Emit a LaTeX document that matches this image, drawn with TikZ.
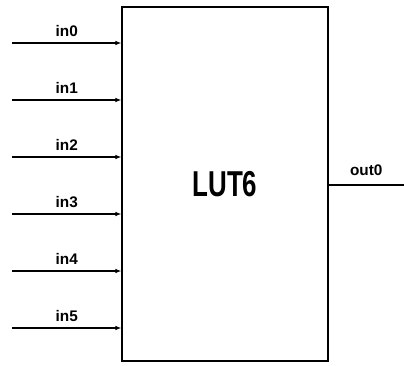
\documentclass[tikz,border=0pt]{standalone}
\usepackage{fontspec}
\setmainfont{Liberation Sans}
\usetikzlibrary{arrows.meta, positioning, calc}
\tikzset{
  lutbox/.style={draw, thick, minimum width=206*0.75pt, minimum height=354*0.75pt, inner sep=0pt},
  pin/.style={-{Latex[length=1.6mm, width=1.2mm]}, thick},
  wire/.style={thick},
  pinlabel/.style={font=\bfseries\fontsize{11.5}{13}\selectfont, inner sep=1pt, anchor=base},
  every node/.style={font=\small}
}

\begin{document}
\begin{tikzpicture}[x=0.75pt, y=-0.75pt]
    \useasboundingbox (0,0) rectangle (404,366);
    \node[lutbox] (lut) at (225,184) {};
    \node[font=\bfseries\fontsize{27}{29}\selectfont] (name) at (lut.center) {\scalebox{0.72}[1]{LUT6}};

    % inputs
    \foreach \i in {0,...,5} {
      \coordinate (src\i) at (12,{43+57*\i});
      \coordinate (dst\i) at (lut.west |- src\i);
      \draw[pin] (src\i) -- (dst\i);
      \node[pinlabel] (lbl\i) at ($(src\i)!0.5!(dst\i)+(0,-6)$) {in\i};
    }

    % output
    \coordinate (out) at (404,185);
    \draw[wire] (lut.east |- out) -- (out);
    \node[pinlabel] (outlbl) at ($(lut.east |- out)!0.5!(out)+(0,-9)$) {out0};
\end{tikzpicture}
\end{document}
